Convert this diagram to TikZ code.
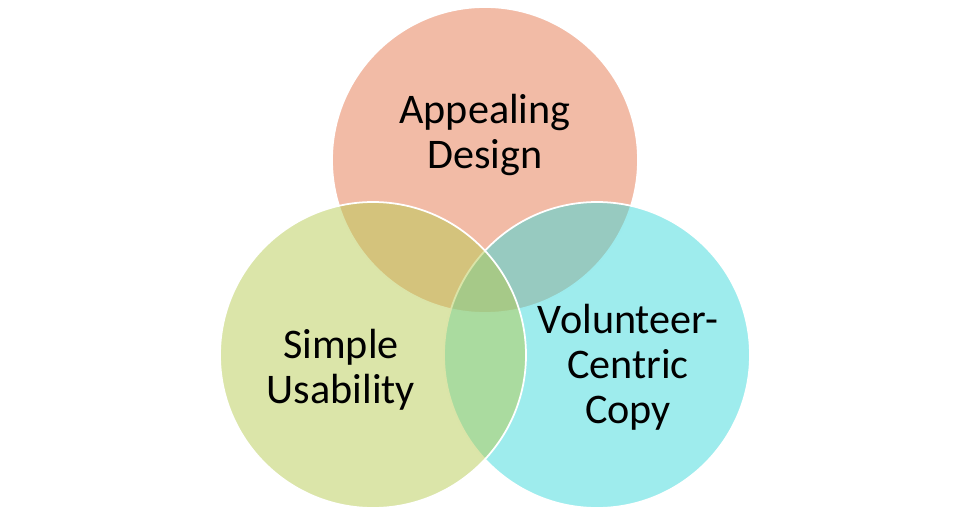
\documentclass[tikz,border=0pt]{standalone}
\usepackage{fontspec}
\setmainfont{Carlito}
\usepackage{tikz}
\definecolor{designfill}{RGB}{229,119,77}
\definecolor{copyfill}{RGB}{61,217,219}
\definecolor{usefill}{RGB}{183,203,83}

\begin{document}
\begin{tikzpicture}[
  venn/.style={circle, minimum size=6.12cm, inner sep=0pt, draw=white, line width=1pt, fill opacity=0.5},
  venntext/.style={align=center, inner sep=0pt, font=\fontsize{24}{25.6}\selectfont}
]
\useasboundingbox (0,0) rectangle (19.4,10.32);

\node[venn, fill=designfill] (design) at (9.70, 7.12) {};
\node[venn, fill=copyfill] (copy) at (11.94, 3.22) {};
\node[venn, fill=usefill] (usability) at (7.46, 3.22) {};

\node[venntext] (designtext) at (9.70, 7.62) {Appealing\\Design};
\node[venntext] (usabilitytext) at (6.82, 2.92) {Simple\\Usability};
\node[venntext] (copytext) at (12.56, 2.97) {Volunteer-\\Centric\\Copy};

\end{tikzpicture}
\end{document}
